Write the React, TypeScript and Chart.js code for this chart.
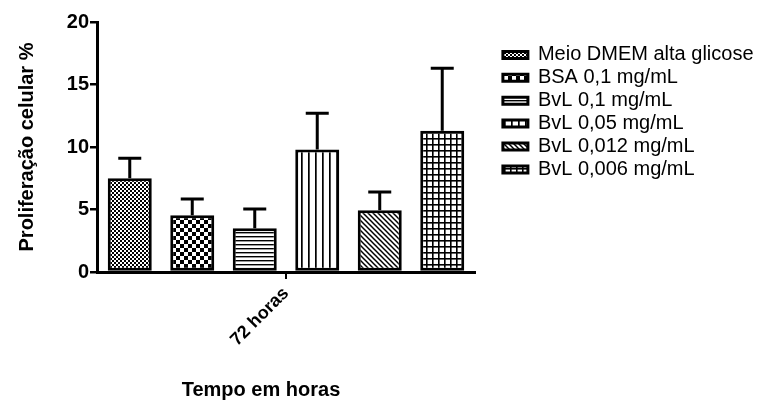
import React, { useEffect, useRef } from 'react';
import { Chart, registerables } from 'chart.js';

Chart.register(...registerables);

const categories = ['72 horas'];
const seriesLabels = [
  'Meio DMEM alta glicose',
  'BSA 0,1 mg/mL',
  'BvL 0,1 mg/mL',
  'BvL 0,05 mg/mL',
  'BvL 0,012 mg/mL',
  'BvL 0,006 mg/mL',
];
const meanValues = [7.5, 4.55, 3.5, 9.8, 4.95, 11.3];
const errorValues = [1.6, 1.3, 1.55, 2.9, 1.45, 5.0];
const patternKinds = ['fineChecker', 'checker', 'hLines', 'vLines', 'diagonal', 'grid'];
const yTicks = [0, 5, 10, 15, 20];
const yTitle = 'Proliferação celular %';
const xTitle = 'Tempo em horas';

const FAMILY = "'Liberation Sans', Arial, Helvetica, sans-serif";

function makePattern(kind: string): CanvasPattern | string {
  const c = document.createElement('canvas');
  const g = c.getContext('2d');
  if (!g) return '#888';
  let w = 4;
  let h = 4;
  switch (kind) {
    case 'fineChecker': w = 4; h = 4; break;
    case 'checker': w = 8; h = 8; break;
    case 'hLines': w = 4; h = 4; break;
    case 'vLines': w = 7; h = 7; break;
    case 'diagonal': w = 5; h = 5; break;
    case 'grid': w = 6; h = 6; break;
  }
  c.width = w;
  c.height = h;
  g.fillStyle = '#fff';
  g.fillRect(0, 0, w, h);
  g.fillStyle = '#000';
  g.strokeStyle = '#000';
  switch (kind) {
    case 'fineChecker':
      g.fillRect(0, 0, 2, 2);
      g.fillRect(2, 2, 2, 2);
      break;
    case 'checker':
      g.fillRect(0, 0, 4, 4);
      g.fillRect(4, 4, 4, 4);
      break;
    case 'hLines':
      g.fillRect(0, 0, w, 1.4);
      break;
    case 'vLines':
      g.fillRect(0, 0, 1.7, h);
      break;
    case 'diagonal':
      g.lineWidth = 1.5;
      for (const off of [-w, 0, w]) {
        g.beginPath();
        g.moveTo(off - 1, -1);
        g.lineTo(off + w + 1, h + 1);
        g.stroke();
      }
      break;
    case 'grid':
      g.fillRect(0, 0, w, 1.6);
      g.fillRect(0, 0, 1.6, h);
      break;
  }
  return g.createPattern(c, 'repeat') || '#888';
}

const errorBarPlugin = {
  id: 'errorBars',
  afterDatasetsDraw(chart: any) {
    const { ctx } = chart;
    const yScale = chart.scales.y;
    ctx.save();
    ctx.strokeStyle = '#000';
    ctx.lineWidth = 3;
    ctx.lineCap = 'butt';
    chart.data.datasets.forEach((ds: any, i: number) => {
      const meta = chart.getDatasetMeta(i);
      if (meta.hidden) return;
      meta.data.forEach((bar: any) => {
        const v = meanValues[i];
        const e = errorValues[i];
        const x = bar.x;
        const yTop = yScale.getPixelForValue(v);
        const yErr = yScale.getPixelForValue(v + e);
        ctx.beginPath();
        ctx.moveTo(x, yTop);
        ctx.lineTo(x, yErr);
        ctx.moveTo(x - 11.5, yErr);
        ctx.lineTo(x + 11.5, yErr);
        ctx.stroke();
      });
    });
    ctx.restore();
  },
};

export default function App() {
  const ref = useRef<HTMLCanvasElement | null>(null);

  useEffect(() => {
    document.body.style.margin = '0';
    const canvas = ref.current;
    if (!canvas) return;
    Chart.defaults.font.family = FAMILY;
    Chart.defaults.color = '#000';

    const datasets = seriesLabels.map((label, i) => ({
      label,
      data: [meanValues[i]],
      backgroundColor: makePattern(patternKinds[i]),
      borderColor: '#000',
      borderWidth: 3,
      borderSkipped: false,
      barPercentage: 0.704,
      categoryPercentage: 0.992,
    }));

    const chart = new Chart(canvas, {
      type: 'bar',
      data: { labels: categories, datasets },
      plugins: [errorBarPlugin],
      options: {
        responsive: false,
        animation: false,
        devicePixelRatio: 1,
        layout: { padding: { top: 22, left: 0, right: 0, bottom: 0 } },
        plugins: {
          legend: {
            position: 'right',
            align: 'start',
            maxWidth: 262,
            title: { display: true, text: '', font: { size: 10 }, padding: { top: 4, bottom: 4 } },
            labels: {
              boxWidth: 25,
              boxHeight: 7,
              padding: 2.9,
              color: '#000',
              font: { family: FAMILY, size: 20 },
            },
          },
          tooltip: { enabled: false },
        },
        scales: {
          x: {
            type: 'category',
            offset: true,
            grid: {
              display: true,
              offset: false,
              drawOnChartArea: false,
              drawTicks: true,
              tickLength: 7,
              color: '#000',
              lineWidth: 2,
            },
            border: { display: true, color: '#000', width: 3 },
            ticks: {
              color: '#000',
              font: { family: FAMILY, size: 18, weight: 'bold' },
              minRotation: 45,
              maxRotation: 45,
              padding: 4,
            },
            title: {
              display: true,
              text: xTitle + '         ',
              color: '#000',
              font: { family: FAMILY, size: 20, weight: 'bold' },
              padding: { top: 0, bottom: -2 },
            },
            afterFit: (s: any) => {
              s.height = 128;
            },
          },
          y: {
            type: 'linear',
            min: yTicks[0],
            max: yTicks[yTicks.length - 1],
            afterBuildTicks: (s: any) => {
              s.ticks = yTicks.map((v) => ({ value: v }));
            },
            grid: {
              display: true,
              drawOnChartArea: false,
              drawTicks: true,
              tickLength: 7,
              color: '#000',
              lineWidth: 2.5,
            },
            border: { display: true, color: '#000', width: 3 },
            ticks: {
              color: '#000',
              font: { family: FAMILY, size: 20, weight: 'bold' },
              padding: 1,
            },
            title: {
              display: true,
              text: yTitle,
              color: '#000',
              font: { family: FAMILY, size: 20, weight: 'bold' },
              padding: { top: 15, bottom: 0 },
            },
            afterFit: (s: any) => {
              s.width = 97;
            },
          },
          yPad: {
            type: 'linear',
            position: 'right',
            display: true,
            grid: { display: false },
            ticks: { display: false },
            border: { display: false },
            afterFit: (s: any) => {
              s.width = 25;
            },
          },
        },
      } as any,
    });

    return () => {
      chart.destroy();
    };
  }, []);

  return (
    <div style={{ width: 762, height: 400, position: 'relative', background: '#fff' }}>
      <canvas ref={ref} width={762} height={400} style={{ display: 'block' }} />
    </div>
  );
}
